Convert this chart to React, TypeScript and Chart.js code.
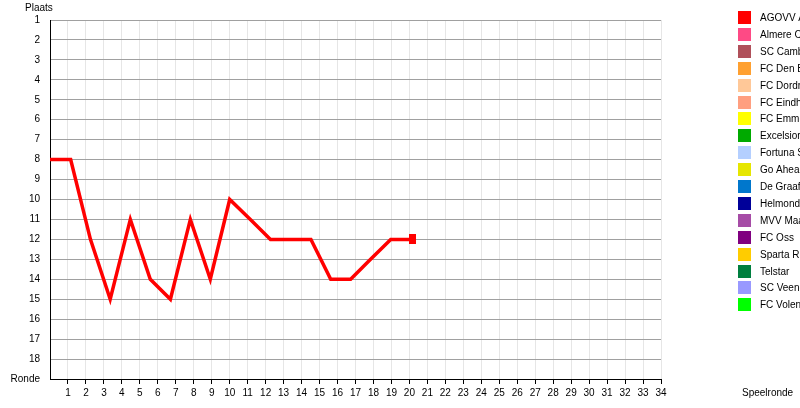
import React, { useEffect, useRef } from "react";
import { Chart, registerables } from "chart.js";

Chart.register(...registerables);

const teams = [
  "AGOVV Apeldoorn",
  "Almere City",
  "SC Cambuur",
  "FC Den Bosch",
  "FC Dordrecht",
  "FC Eindhoven",
  "FC Emmen",
  "Excelsior",
  "Fortuna Sittard",
  "Go Ahead Eagles",
  "De Graafschap",
  "Helmond Sport",
  "MVV Maastricht",
  "FC Oss",
  "Sparta Rotterdam",
  "Telstar",
  "SC Veendam",
  "FC Volendam",
];

const teamColors = [
  "#ff0000",
  "#fe4a85",
  "#b0505a",
  "#ffa030",
  "#ffc898",
  "#ff9f80",
  "#ffff00",
  "#00aa00",
  "#b4cfff",
  "#e6e600",
  "#0077cc",
  "#000099",
  "#a64ca6",
  "#800080",
  "#ffcc00",
  "#007f3f",
  "#9999ff",
  "#00ff00",
];

// x positions (in round units) of each plotted vertex
const rondeX = [0, 1.15, 2.25, 3.35, 4.47, 5.58, 6.7, 7.81, 8.92, 10.0, 11.15, 12.27, 13.4, 14.52, 15.62, 16.73, 17.84, 18.96, 20.15];
// AGOVV position per vertex
const plaats = [8, 8, 12, 15, 11, 14, 15, 11, 14, 10, 11, 12, 12, 12, 14, 14, 13, 12, 12];

const yTickLabels: Record<number, string> = { 19: "Ronde" };

const FONT = "'Liberation Sans', Arial, sans-serif";

export default function App() {
  const ref = useRef<HTMLCanvasElement | null>(null);

  useEffect(() => {
    if (!ref.current) return;
    Chart.defaults.font.family = FONT;
    Chart.defaults.font.size = 10;
    Chart.defaults.color = "#000";

    const marker = document.createElement("canvas");
    marker.width = 7;
    marker.height = 10;
    const mctx = marker.getContext("2d")!;
    mctx.fillStyle = "#ff0000";
    mctx.fillRect(0, 0, 7, 10);

    const last = plaats.length - 1;

    const datasets = teams.map((t, i) => ({
      label: t,
      data: i === 0 ? rondeX.map((x, k) => ({ x, y: plaats[k] })) : [],
      borderColor: teamColors[i],
      backgroundColor: teamColors[i],
      borderWidth: 3.5,
      tension: 0,
      pointStyle: marker as any,
      pointRadius: (ctx: any) => (ctx.dataIndex === last ? 5 : 0),
      pointHoverRadius: 0,
    }));

    const overlay = {
      id: "overlay",
      afterDraw(chart: any) {
        const ctx = chart.ctx;
        ctx.save();
        ctx.font = `10px ${FONT}`;
        ctx.fillStyle = "#000";
        ctx.textBaseline = "middle";
        ctx.textAlign = "left";
        ctx.fillText("Plaats", 25, 8);
        ctx.fillText("Speelronde", 742, 393);
        chart.data.datasets.forEach((ds: any, i: number) => {
          const y0 = 11 + i * 16.9;
          ctx.fillStyle = ds.borderColor;
          ctx.fillRect(738, Math.round(y0), 13, 13);
          ctx.fillStyle = "#000";
          ctx.fillText(ds.label, 760, Math.round(y0) + 7);
        });
        ctx.restore();
      },
    };

    const chart = new Chart(ref.current, {
      type: "line",
      data: { datasets: datasets as any },
      options: {
        responsive: false,
        animation: false,
        layout: { padding: { left: 0, top: 20, right: 139, bottom: 0 } },
        plugins: { legend: { display: false }, tooltip: { enabled: false } },
        scales: {
          x: {
            type: "linear",
            min: 0,
            max: 34,
            afterFit: (s: any) => {
              s.height = 29;
            },
            ticks: {
              stepSize: 1,
              autoSkip: false,
              maxRotation: 0,
              padding: 3,
              color: "#000",
              font: { size: 10, family: FONT },
              callback: (v: any) => (v === 0 ? "" : String(v)),
            },
            grid: {
              color: "#e6e6e6",
              lineWidth: 1,
              tickLength: 5,
              tickColor: (ctx: any) => (ctx.tick && ctx.tick.value === 0 ? "rgba(0,0,0,0)" : "#000"),
            },
            border: { color: "#000", width: 1 },
          },
          y: {
            type: "linear",
            min: 1,
            max: 19,
            reverse: true,
            afterFit: (s: any) => {
              s.width = 50;
            },
            ticks: {
              stepSize: 1,
              autoSkip: false,
              padding: 10,
              color: "#000",
              font: { size: 10, family: FONT },
              callback: (v: any) => yTickLabels[v] ?? String(v),
            },
            grid: {
              color: "#a0a0a0",
              lineWidth: 1,
              drawTicks: false,
            },
            border: { color: "#000", width: 1 },
          },
        },
      },
      plugins: [overlay],
    });

    return () => chart.destroy();
  }, []);

  return (
    <canvas
      ref={ref}
      width={800}
      height={408}
      style={{ position: "absolute", left: 0, top: 0, display: "block", background: "#fff" }}
    />
  );
}
